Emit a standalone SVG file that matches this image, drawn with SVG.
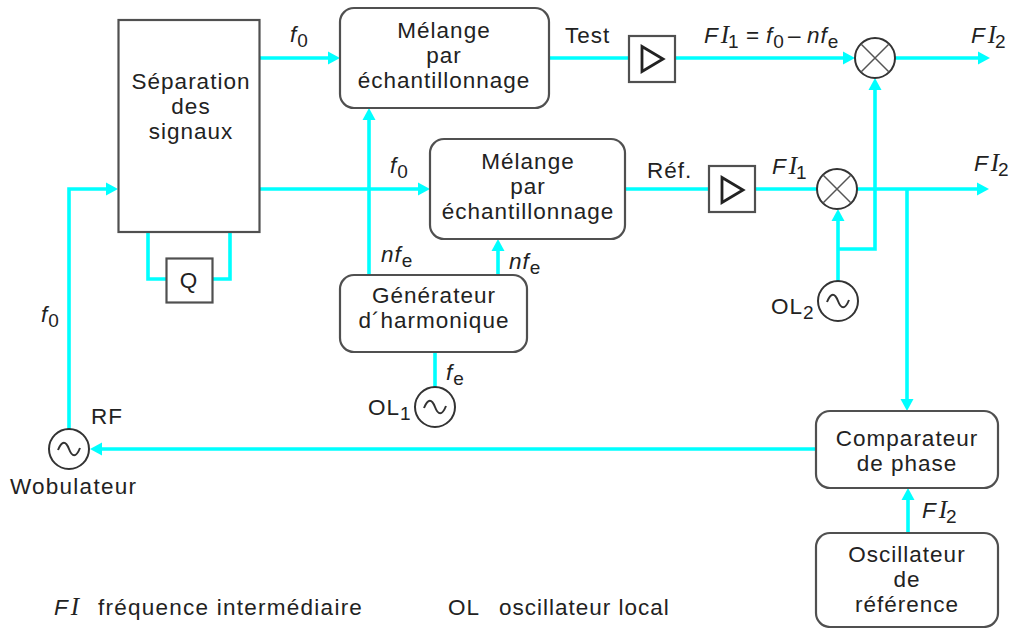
<svg xmlns="http://www.w3.org/2000/svg" width="1012" height="628" viewBox="0 0 1012 628">
<style>
text{font-family:"Liberation Sans",Arial,sans-serif;font-size:22.500px;fill:#222;letter-spacing:1px}
.m{text-anchor:middle}
.i{font-style:italic}
.s{font-size:19px;font-style:normal}
.I{font-family:"Liberation Serif",serif;font-style:italic;font-size:25px}
.w{letter-spacing:1.250px}
.box{fill:#fff;stroke:#505050;stroke-width:2.200}
.c{fill:none;stroke:#00ffff;stroke-width:3.600}
.a{marker-end:url(#h)}
.g{fill:none;stroke:#333;stroke-width:2}
</style>
<defs>
<marker id="h" markerUnits="userSpaceOnUse" markerWidth="13" markerHeight="14" refX="0" refY="7" orient="auto"><path d="M0 0.500 L12 7 L0 13.500 Z" fill="#00ffff"/></marker>
<path id="sine" d="M-11 1 C-7 -9 -3 -8 0 0 C3 8 7 9 11 -1" fill="none" stroke="#333" stroke-width="2"/>
<path id="cross" d="M-14 -14 L14 14 M-14 14 L14 -14" fill="none" stroke="#555" stroke-width="1.500"/>
<path id="tri" d="M-10 -12.500 L11 0 L-10 12.500 Z" fill="none" stroke="#222" stroke-width="2.800"/>
</defs>
<g id="connectors">
<path class="c a" d="M260 58H328"/>
<path class="c a" d="M260 189H418"/>
<path class="c a" d="M369 275V120"/>
<path class="c a" d="M498 275V251"/>
<path class="c" d="M435 352V387"/>
<path class="c a" d="M69 429V189H106"/>
<path class="c" d="M148 232V279H166"/>
<path class="c" d="M230 232V279H213"/>
<path class="c" d="M549 58H629"/>
<path class="c a" d="M675 58H843"/>
<path class="c a" d="M895 58H978"/>
<path class="c" d="M625 189H709"/>
<path class="c" d="M755 189H817"/>
<path class="c a" d="M857 189H977"/>
<path class="c a" d="M838 281V221"/>
<path class="c a" d="M838 249H875V90"/>
<path class="c a" d="M907 189V399"/>
<path class="c a" d="M816 449H102"/>
<path class="c a" d="M908 533V500"/>
</g>
<g id="separation"><rect class="box" x="118.500" y="20" width="141" height="212"/>
<text class="m" x="191" y="89">Séparation</text><text class="m" x="191" y="114">des</text><text class="m" x="191" y="139">signaux</text></g>
<g id="q"><rect class="box" x="166.500" y="258.500" width="46" height="44"/><text class="m" x="189" y="288">Q</text></g>
<g id="melange1"><rect class="box" x="340" y="8" width="209" height="100" rx="14"/>
<text class="m" x="444" y="38">Mélange</text><text class="m" x="444" y="63">par</text><text class="m" x="444" y="88">échantillonnage</text></g>
<g id="melange2"><rect class="box" x="430" y="139" width="195" height="100" rx="14"/>
<text class="m" x="528" y="169">Mélange</text><text class="m" x="528" y="194">par</text><text class="m" x="528" y="219">échantillonnage</text></g>
<g id="generateur"><rect class="box" x="340" y="275" width="187" height="77" rx="14"/>
<text class="m" x="434" y="303">Générateur</text><text class="m" x="434" y="328">d´harmonique</text></g>
<g id="comparateur"><rect class="box" x="816" y="411" width="182" height="77" rx="14"/>
<text class="m" x="907" y="446">Comparateur</text><text class="m" x="907" y="471">de phase</text></g>
<g id="oscillateur"><rect class="box" x="816" y="533" width="182" height="94" rx="14"/>
<text class="m" x="907" y="562">Oscillateur</text><text class="m" x="907" y="587">de</text><text class="m" x="907" y="612">référence</text></g>
<g id="amp1"><rect class="box" x="629" y="36" width="46" height="46"/><use href="#tri" x="652" y="59"/></g>
<g id="amp2"><rect class="box" x="709" y="166" width="46" height="46"/><use href="#tri" x="732" y="190"/></g>
<g id="mix1"><circle class="g" cx="875" cy="58" r="20"/><use href="#cross" x="875" y="58"/></g>
<g id="mix2"><circle class="g" cx="837" cy="189" r="20"/><use href="#cross" x="837" y="189"/></g>
<g id="ol2"><circle class="g" cx="838" cy="301" r="20"/><use href="#sine" x="838" y="301"/></g>
<g id="ol1"><circle class="g" cx="435" cy="407" r="20"/><use href="#sine" x="435" y="407"/></g>
<g id="wobulateur"><circle class="g" cx="69" cy="449" r="20"/><use href="#sine" x="69" y="449"/></g>
<g id="labels">
<text class="i" x="290" y="42">f<tspan class="s" dy="5">0</tspan></text>
<text class="i" x="390" y="173">f<tspan class="s" dy="5">0</tspan></text>
<text class="i" x="41" y="322">f<tspan class="s" dy="5">0</tspan></text>
<text x="381" y="262"><tspan class="i">nf</tspan><tspan class="s" dy="5">e</tspan></text>
<text x="509" y="269"><tspan class="i">nf</tspan><tspan class="s" dy="5">e</tspan></text>
<text class="i" x="446" y="380">f<tspan class="s" dy="5">e</tspan></text>
<text x="565" y="43">Test</text>
<text x="647" y="178">Réf.</text>
<text x="704" y="43"><tspan class="i">F</tspan><tspan class="I" dx="2">I</tspan><tspan class="s" dy="5" dx="-2">1</tspan><tspan x="746" dy="-5">=</tspan><tspan class="i" x="766">f</tspan><tspan class="s" dy="5">0</tspan><tspan x="788" dy="-5">–</tspan><tspan class="i" x="807">nf</tspan><tspan class="s" dy="5">e</tspan></text>
<text x="772" y="174"><tspan class="i">F</tspan><tspan class="I" dx="2">I</tspan><tspan class="s" dy="5" dx="-2">1</tspan></text>
<text x="971" y="43"><tspan class="i">F</tspan><tspan class="I" dx="2">I</tspan><tspan class="s" dy="5" dx="-2">2</tspan></text>
<text x="974" y="171"><tspan class="i">F</tspan><tspan class="I" dx="2">I</tspan><tspan class="s" dy="5" dx="-2">2</tspan></text>
<text x="922" y="518"><tspan class="i">F</tspan><tspan class="I" dx="2">I</tspan><tspan class="s" dy="5" dx="-2">2</tspan></text>
<text x="771" y="314">OL<tspan class="s" dy="5">2</tspan></text>
<text x="368" y="415">OL<tspan class="s" dy="5">1</tspan></text>
<text x="91" y="424">RF</text>
<text class="w" x="10" y="494">Wobulateur</text>
<text x="54" y="615"><tspan class="i">F</tspan><tspan class="I" dx="2">I</tspan></text>
<text class="w" x="98" y="615">fréquence intermédiaire</text>
<text x="448" y="615">OL</text>
<text x="499" y="615">oscillateur local</text>
</g>
</svg>
